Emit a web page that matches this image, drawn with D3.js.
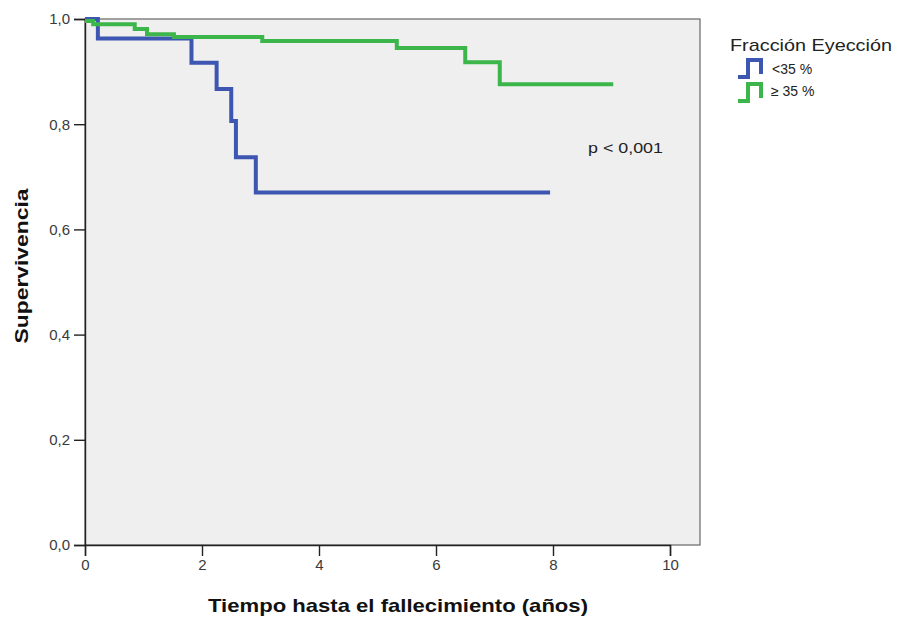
<!DOCTYPE html>
<html>
<head>
<meta charset="utf-8">
<script src="https://cdn.jsdelivr.net/npm/d3@7"></script>
<style>
  html, body { margin: 0; padding: 0; background: #ffffff; }
  svg { display: block; }
</style>
</head>
<body>
<svg id="chart" width="899" height="619"></svg>
<script>
// Kaplan–Meier survival by ejection fraction group
const groups = ["<35 %", "\u2265 35 %"];
const groupColors = ["#3d56b2", "#3cb64a"];

// Step points: time (years) at which survival changes, and survival after it
const lowTimes  = [0, 0.22, 1.82, 2.25, 2.50, 2.58, 2.92, 7.95];
const lowSurv   = [1.0, 0.963, 0.917, 0.867, 0.806, 0.737, 0.670, 0.670];
const highTimes = [0, 0.14, 0.85, 1.06, 1.52, 3.03, 5.33, 6.50, 7.09, 9.03];
const highSurv  = [0.996, 0.990, 0.981, 0.971, 0.966, 0.958, 0.945, 0.918, 0.876, 0.876];

const xTicks = [0, 2, 4, 6, 8, 10];
const yTicks = [0, 0.2, 0.4, 0.6, 0.8, 1.0];

const xTitle = "Tiempo hasta el fallecimiento (años)";
const yTitle = "Supervivencia";
const legendTitle = "Fracción Eyección";
const pLabel = "p < 0,001";

const svg = d3.select("#chart");
const plot = { left: 85, right: 700, top: 19, bottom: 545 };

const x = d3.scaleLinear().domain([0, 10]).range([plot.left, 670]);
const y = d3.scaleLinear().domain([0, 1]).range([plot.bottom, plot.top]);

const esLocale = d3.formatLocale({ decimal: ",", thousands: ".", grouping: [3], currency: ["", "€"] });
const fmtY = esLocale.format(".1f");

// plot background and frame
svg.append("rect")
  .attr("x", plot.left).attr("y", plot.top)
  .attr("width", plot.right - plot.left).attr("height", plot.bottom - plot.top)
  .attr("fill", "#efefef")
  .attr("stroke", "#666").attr("stroke-width", 1.2);

// axes
const yAxis = d3.axisLeft(y).tickValues(yTicks).tickFormat(fmtY).tickSize(11).tickPadding(4);
const gy = svg.append("g").attr("transform", `translate(${plot.left},0)`).call(yAxis);
const xAxis = d3.axisBottom(x).tickValues(xTicks).tickFormat(d3.format("d")).tickSize(11).tickPadding(3);
const gx = svg.append("g").attr("transform", `translate(0,${plot.bottom})`).call(xAxis);

[gx, gy].forEach(g => {
  g.select(".domain").attr("stroke", "#222").attr("stroke-width", 1.4);
  g.selectAll(".tick line").attr("stroke", "#222").attr("stroke-width", 1.4);
  g.selectAll(".tick text")
    .attr("fill", "#3a3a3a")
    .style("font-family", "'Liberation Sans', Arial, sans-serif")
    .style("font-size", "15px");
});

// survival curves (the ≥35 % curve is drawn on top)
const line = d3.line()
  .x(d => x(d[0]))
  .y(d => y(d[1]))
  .curve(d3.curveStepAfter);

const series = [
  { pts: d3.zip(lowTimes, lowSurv), color: groupColors[0] },
  { pts: d3.zip(highTimes, highSurv), color: groupColors[1] }
];

svg.append("g").selectAll("path")
  .data(series)
  .join("path")
  .attr("d", d => line(d.pts))
  .attr("fill", "none")
  .attr("stroke", d => d.color)
  .attr("stroke-width", 4)
  .attr("stroke-linejoin", "miter")
  .attr("stroke-linecap", "butt");

// axis titles
svg.append("text")
  .attr("x", 398).attr("y", 612)
  .attr("text-anchor", "middle")
  .attr("textLength", 380).attr("lengthAdjust", "spacingAndGlyphs")
  .style("font-family", "'Liberation Sans', Arial, sans-serif")
  .style("font-weight", "bold").style("font-size", "19px")
  .attr("fill", "#111")
  .text(xTitle);

svg.append("text")
  .attr("transform", "translate(28,266) rotate(-90)")
  .attr("text-anchor", "middle")
  .attr("textLength", 155).attr("lengthAdjust", "spacingAndGlyphs")
  .style("font-family", "'Liberation Sans', Arial, sans-serif")
  .style("font-weight", "bold").style("font-size", "19px")
  .attr("fill", "#111")
  .text(yTitle);

// p-value annotation
svg.append("text")
  .attr("x", 588).attr("y", 153)
  .attr("textLength", 75).attr("lengthAdjust", "spacingAndGlyphs")
  .style("font-family", "'Liberation Sans', Arial, sans-serif")
  .style("font-size", "15px")
  .attr("fill", "#222")
  .text(pLabel);

// legend
const legend = svg.append("g");
legend.append("text")
  .attr("x", 730).attr("y", 51)
  .attr("textLength", 162).attr("lengthAdjust", "spacingAndGlyphs")
  .style("font-family", "'Liberation Sans', Arial, sans-serif")
  .style("font-size", "17px")
  .attr("fill", "#222")
  .text(legendTitle);

const icon = (ox, oy) => {
  const p = d3.path();
  p.moveTo(ox, oy + 17);
  p.lineTo(ox + 10, oy + 17);
  p.lineTo(ox + 10, oy);
  p.lineTo(ox + 23, oy);
  p.lineTo(ox + 23, oy + 14);
  return p.toString();
};

const items = legend.selectAll("g.item")
  .data(groups)
  .join("g")
  .attr("class", "item")
  .attr("transform", (d, i) => `translate(0,${i * 24})`);

items.append("path")
  .attr("d", icon(738, 60))
  .attr("fill", "none")
  .attr("stroke", (d, i) => groupColors[i])
  .attr("stroke-width", 4);

items.append("text")
  .attr("x", (d, i) => i === 0 ? 772 : 771)
  .attr("y", (d, i) => i === 0 ? 74 : 72)
  .style("font-family", "'Liberation Sans', Arial, sans-serif")
  .style("font-size", "14px")
  .attr("fill", "#222")
  .text(d => d);
</script>
</body>
</html>
